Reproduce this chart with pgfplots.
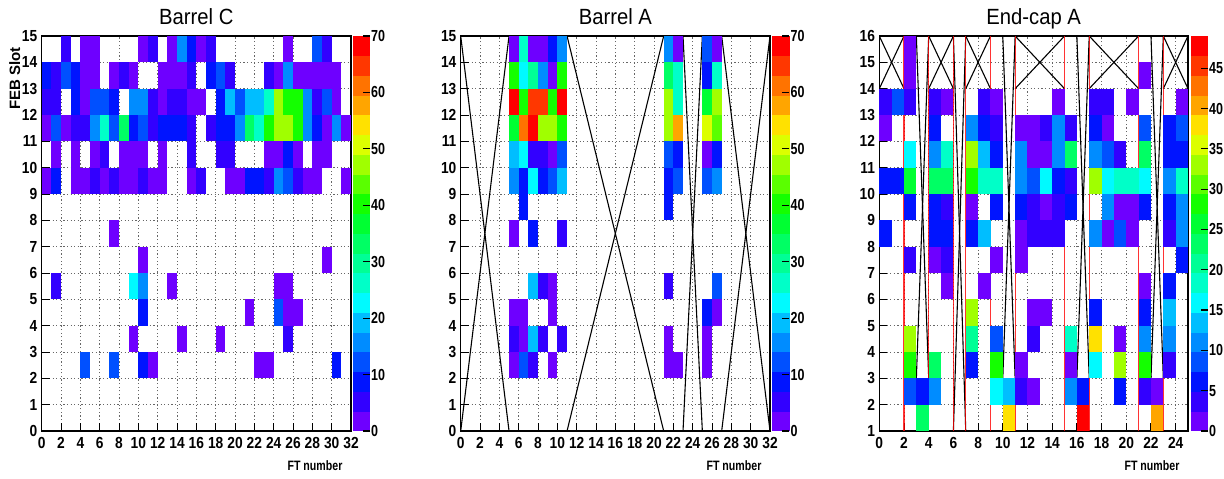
\documentclass[border=0pt]{standalone}
\usepackage{fontspec}
\setmainfont{Liberation Sans}
\newfontfamily\tickfont{Liberation Sans}[FakeStretch=0.86]
\newfontfamily\cbfont{Liberation Sans}[FakeStretch=0.78]
\newfontfamily\labfont{Liberation Sans}[FakeStretch=0.78]
\newfontfamily\titlefont{Liberation Sans}[FakeStretch=0.92]
\usepackage{pgfplots}
\usepackage{pgfplotstable}
\pgfplotsset{compat=1.18}
\pgfplotsset{/pgf/number format/assume math mode=true}

\pgfdeclareplotmark{cellB}{\pgfpathrectangle{\pgfpointorigin}{\pgfpoint{4.88pt}{13.21pt}}\pgfusepathqfill}
\pgfdeclareplotmark{cellE}{\pgfpathrectangle{\pgfpointorigin}{\pgfpoint{6.22pt}{13.21pt}}\pgfusepathqfill}

\pgfplotsset{
  colormap={rootpal}{
    rgb255=(110,0,255) rgb255=(50,0,255) rgb255=(0,20,255) rgb255=(0,80,255) rgb255=(0,140,255)
    rgb255=(0,190,255) rgb255=(0,250,255) rgb255=(0,255,200) rgb255=(0,255,150) rgb255=(0,255,100)
    rgb255=(0,255,50) rgb255=(20,255,0) rgb255=(90,255,0) rgb255=(160,255,0) rgb255=(220,255,0)
    rgb255=(255,225,0) rgb255=(255,165,0) rgb255=(255,115,0) rgb255=(255,55,0) rgb255=(255,0,0)
  },
  rootpanel/.style={
    scale only axis, height=197.5pt, anchor=south west,
    colormap name=rootpal, colormap access=piecewise constant,
    axis line style={line width=0.6pt},
    tick align=inside, xtick pos=bottom, ytick pos=left,
    major tick length=4pt, tick style={black, line width=0.5pt},
    grid=major, major grid style={black!60, line width=0.45pt, dash pattern=on 0.6pt off 1.2pt},
    ticklabel style={font=\tickfont\bfseries\fontsize{8}{9}\selectfont},
    xticklabel style={inner sep=0pt, yshift=-3pt},
    yticklabel style={inner sep=0pt, xshift=-2pt},
    title style={font=\titlefont\fontsize{11}{13}\selectfont, at={(0.5,1)}, anchor=base},
    xlabel style={font=\labfont\bfseries\fontsize{6.8}{7}\selectfont, at={(axis description cs:0.995,0)}, anchor=base east, yshift=-19.5pt},
    colorbar,
  },
  cbstyle/.style={
    at={(parent axis.north east)}, anchor=north west,
    axis line style={draw=none},
    ytick pos=right, tick align=inside, major tick length=3.5pt,
    tick style={black, line width=0.6pt},
    yticklabel style={font=\cbfont\bfseries\fontsize{8}{9}\selectfont, inner sep=0pt, xshift=0.4pt},
  },
  cellplot/.style={scatter, only marks, mark=#1, point meta=explicit,
    scatter/use mapped color={draw=none, fill=mapped color}},
}

\pgfplotstableread{
x y c
2 14 5
4 14 2
5 14 2
10 14 2
11 14 5
13 14 2
14 14 16
15 14 9
16 14 2
17 14 5
25 14 2
28 14 12
29 14 5
0 13 9
1 13 5
2 13 12
3 13 9
4 13 2
5 13 2
7 13 2
8 13 5
9 13 2
12 13 2
13 13 2
14 13 2
15 13 5
17 13 9
18 13 12
19 13 5
23 13 5
24 13 2
25 13 16
26 13 2
27 13 2
28 13 2
29 13 2
30 13 2
0 12 5
1 12 5
3 12 9
4 12 2
5 12 12
6 12 12
7 12 9
9 12 16
10 12 16
11 12 5
12 12 2
13 12 5
14 12 5
15 12 2
16 12 2
18 12 9
19 12 19
20 12 12
21 12 19
22 12 19
23 12 26
24 12 47
25 12 40
26 12 40
27 12 16
28 12 5
29 12 12
30 12 2
0 11 2
1 11 12
2 11 2
3 11 5
4 11 5
5 11 16
6 11 26
7 11 12
8 11 33
9 11 9
10 11 12
11 11 5
12 11 9
13 11 9
14 11 9
15 11 5
17 11 5
18 11 9
19 11 9
20 11 16
21 11 33
22 11 26
23 11 40
24 11 47
25 11 47
26 11 40
27 11 16
28 11 9
29 11 2
30 11 16
31 11 2
1 10 2
3 10 2
5 10 2
6 10 5
8 10 2
9 10 2
10 10 2
12 10 2
15 10 5
18 10 5
19 10 5
23 10 2
24 10 2
25 10 9
26 10 2
28 10 2
29 10 2
0 9 2
1 9 9
3 9 2
4 9 2
5 9 5
6 9 2
7 9 5
8 9 2
9 9 2
10 9 5
11 9 2
12 9 2
15 9 2
16 9 5
19 9 2
20 9 2
21 9 9
22 9 9
23 9 5
24 9 16
25 9 12
26 9 5
27 9 2
28 9 2
31 9 2
7 7 2
10 6 2
29 6 2
1 5 5
9 5 23
10 5 16
13 5 2
24 5 2
25 5 2
10 4 9
21 4 2
24 4 12
25 4 2
26 4 2
9 3 2
14 3 2
18 3 2
25 3 5
4 2 12
7 2 12
10 2 9
11 2 2
22 2 2
23 2 2
30 2 9
}\barrelC

\pgfplotstableread{
x y c
5 14 2
6 14 26
7 14 2
8 14 2
9 14 9
10 14 16
21 14 16
22 14 2
25 14 12
26 14 2
5 13 40
6 13 23
7 13 30
8 13 16
9 13 2
10 13 40
21 13 33
22 13 26
25 13 9
26 13 26
5 12 68
6 12 40
7 12 65
8 12 65
9 12 40
10 12 68
21 12 47
22 12 26
25 12 37
26 12 47
5 11 37
6 11 61
7 11 68
8 11 47
9 11 47
10 11 40
21 11 47
22 11 58
25 11 51
26 11 44
5 10 19
6 10 23
7 10 5
8 10 5
9 10 2
10 10 12
21 10 12
22 10 9
25 10 2
26 10 9
5 9 16
6 9 9
7 9 23
8 9 9
9 9 12
10 9 19
21 9 9
22 9 12
25 9 12
26 9 16
6 8 9
21 8 9
5 7 2
7 7 9
10 7 5
7 5 19
8 5 5
9 5 2
21 5 5
26 5 12
5 4 2
6 4 2
9 4 2
25 4 9
26 4 2
5 3 5
6 3 2
7 3 19
8 3 5
10 3 5
21 3 2
25 3 2
5 2 2
6 2 12
7 2 5
9 2 2
21 2 2
22 2 2
25 2 2
}\barrelA

\pgfplotstableread{
x y c
2 15 1
2 14 1
21 14 1
0 13 3.6
1 13 8.5
2 13 3.6
4 13 3.6
5 13 1
8 13 3.6
9 13 1
14 13 1
17 13 3.6
18 13 3.6
20 13 1
24 13 1
0 12 1
4 12 6
7 12 10.9
8 12 6
9 12 3.6
11 12 1
12 12 1
13 12 3.6
14 12 10.9
15 12 3.6
17 12 6
18 12 1
21 12 8.5
23 12 6
24 12 8.5
2 11 15.8
4 11 10.9
5 11 18.2
7 11 32.8
8 11 13.4
9 11 6
11 11 10.9
12 11 1
13 11 1
14 11 10.9
15 11 23.1
17 11 10.9
18 11 8.5
19 11 3.6
21 11 23.1
23 11 6
24 11 6
0 10 6
1 10 6
2 10 25.5
4 10 23.1
5 10 23.1
7 10 27.9
8 10 18.2
9 10 18.2
11 10 10.9
12 10 8.5
13 10 15.8
14 10 6
15 10 3.6
17 10 32.8
18 10 15.8
19 10 18.2
20 10 18.2
21 10 15.8
23 10 10.9
24 10 18.2
2 9 6
4 9 6
5 9 3.6
7 9 1
9 9 6
11 9 6
12 9 3.6
13 9 1
14 9 3.6
15 9 6
18 9 10.9
19 9 1
20 9 1
21 9 6
23 9 6
24 9 10.9
0 8 6
4 8 6
5 8 6
7 8 6
8 8 13.4
11 8 1
12 8 3.6
13 8 3.6
14 8 3.6
17 8 10.9
18 8 1
19 8 8.5
20 8 1
23 8 3.6
24 8 10.9
2 7 3.6
4 7 1
5 7 3.6
9 7 1
11 7 1
24 7 6
5 6 1
8 6 1
21 6 1
23 6 6
7 5 32.8
12 5 1
13 5 1
17 5 6
21 5 6
23 5 13.4
2 4 32.8
7 4 20.6
9 4 8.5
12 4 3.6
15 4 18.2
17 4 37.7
19 4 1
21 4 10.9
23 4 10.9
2 3 27.9
4 3 23.1
7 3 6
9 3 27.9
11 3 1
15 3 1
17 3 15.8
19 3 32.8
21 3 27.9
23 3 3.6
2 2 8.5
3 2 6
4 2 10.9
9 2 15.8
10 2 13.4
11 2 3.6
12 2 1
15 2 10.9
16 2 6
19 2 6
21 2 3.6
22 2 1
3 1 23.1
10 1 37.7
16 1 48.8
22 1 40.1
}\endcapA

\begin{document}
\begin{tikzpicture}
\useasboundingbox (0,0) rectangle (612pt,239pt);

% ---------------- Barrel C
\begin{axis}[rootpanel, at={(20.85pt,23.5pt)}, width=154.65pt,
  xmin=0, xmax=32, ymin=0, ymax=15,
  xtick={0,2,...,32}, ytick={0,1,...,15},
  point meta min=0, point meta max=70,
  title={Barrel C}, xlabel={FT number},
  ylabel={FEB Slot},
  ylabel style={font=\bfseries\fontsize{7.5}{8}\selectfont, at={(axis description cs:-0.087,0.99)}, anchor=east},
  colorbar style={cbstyle, width=8.85pt, xshift=0.65pt-0.3cm, ytick={0,10,...,70}},
]
\addplot[cellplot=cellB] table[x=x, y=y, meta=c] {\barrelC};
\end{axis}

% ---------------- Barrel A
\begin{axis}[rootpanel, at={(230.35pt,23.5pt)}, width=154.65pt,
  xmin=0, xmax=32, ymin=0, ymax=15,
  xtick={0,2,...,32}, ytick={0,1,...,15},
  point meta min=0, point meta max=70,
  title={Barrel A}, xlabel={FT number},
  colorbar style={cbstyle, width=8.85pt, xshift=0.85pt-0.3cm, ytick={0,10,...,70}},
]
\addplot[cellplot=cellB] table[x=x, y=y, meta=c] {\barrelA};
\addplot[black, line width=0.55pt, no marks] coordinates {(0,15) (5,0)};
\addplot[black, line width=0.55pt, no marks] coordinates {(0,0) (5,15)};
\addplot[black, line width=0.55pt, no marks] coordinates {(11,15) (21,0)};
\addplot[black, line width=0.55pt, no marks] coordinates {(11,0) (21,15)};
\addplot[black, line width=0.55pt, no marks] coordinates {(23,15) (25,0)};
\addplot[black, line width=0.55pt, no marks] coordinates {(23,0) (25,15)};
\addplot[black, line width=0.55pt, no marks] coordinates {(27,15) (32,0)};
\addplot[black, line width=0.55pt, no marks] coordinates {(27,0) (32,15)};
\end{axis}

% ---------------- End-cap A
\begin{axis}[rootpanel, at={(439.65pt,23.5pt)}, width=154.35pt,
  xmin=0, xmax=25, ymin=1, ymax=16,
  xtick={0,2,...,24}, ytick={1,2,...,16},
  point meta min=0, point meta max=49,
  title={End-cap A}, xlabel={FT number},
  colorbar style={cbstyle, width=8.65pt, xshift=1.35pt-0.3cm, ytick={0,5,...,45}},
]
\addplot[cellplot=cellE] table[x=x, y=y, meta=c] {\endcapA};
% missing-FEB crosses
\addplot[black, line width=0.55pt, no marks] coordinates {(0,14) (2,16)};
\addplot[black, line width=0.55pt, no marks] coordinates {(0,16) (2,14)};
\addplot[black, line width=0.55pt, no marks] coordinates {(4,14) (6,16)};
\addplot[black, line width=0.55pt, no marks] coordinates {(4,16) (6,14)};
\addplot[black, line width=0.55pt, no marks] coordinates {(7,14) (9,16)};
\addplot[black, line width=0.55pt, no marks] coordinates {(7,16) (9,14)};
\addplot[black, line width=0.55pt, no marks] coordinates {(11,14) (15,16)};
\addplot[black, line width=0.55pt, no marks] coordinates {(11,16) (15,14)};
\addplot[black, line width=0.55pt, no marks] coordinates {(17,14) (21,16)};
\addplot[black, line width=0.55pt, no marks] coordinates {(17,16) (21,14)};
\addplot[black, line width=0.55pt, no marks] coordinates {(23,14) (25,16)};
\addplot[black, line width=0.55pt, no marks] coordinates {(23,16) (25,14)};
\addplot[black, line width=0.55pt, no marks] coordinates {(3,3) (4,16)};
\addplot[black, line width=0.55pt, no marks] coordinates {(3,16) (4,3)};
\addplot[black, line width=0.55pt, no marks] coordinates {(6,1) (7,16)};
\addplot[black, line width=0.55pt, no marks] coordinates {(6,16) (7,1)};
\addplot[black, line width=0.55pt, no marks] coordinates {(10,3) (11,16)};
\addplot[black, line width=0.55pt, no marks] coordinates {(10,16) (11,3)};
\addplot[black, line width=0.55pt, no marks] coordinates {(16,3) (17,16)};
\addplot[black, line width=0.55pt, no marks] coordinates {(16,16) (17,3)};
\addplot[black, line width=0.55pt, no marks] coordinates {(22,3) (23,16)};
\addplot[black, line width=0.55pt, no marks] coordinates {(22,16) (23,3)};
% red separators
\addplot[red, opacity=0.8, line width=0.6pt, no marks] coordinates {(2,1) (2,16)};
\addplot[red, opacity=0.8, line width=0.6pt, no marks] coordinates {(4,1) (4,16)};
\addplot[red, opacity=0.8, line width=0.6pt, no marks] coordinates {(6,1) (6,16)};
\addplot[red, opacity=0.8, line width=0.6pt, no marks] coordinates {(7,1) (7,16)};
\addplot[red, opacity=0.8, line width=0.6pt, no marks] coordinates {(9,1) (9,16)};
\addplot[red, opacity=0.8, line width=0.6pt, no marks] coordinates {(11,1) (11,16)};
\addplot[red, opacity=0.8, line width=0.6pt, no marks] coordinates {(15,1) (15,16)};
\addplot[red, opacity=0.8, line width=0.6pt, no marks] coordinates {(17,1) (17,16)};
\addplot[red, opacity=0.8, line width=0.6pt, no marks] coordinates {(21,1) (21,16)};
\addplot[red, opacity=0.8, line width=0.6pt, no marks] coordinates {(23,1) (23,16)};
\end{axis}
\end{tikzpicture}
\end{document}
